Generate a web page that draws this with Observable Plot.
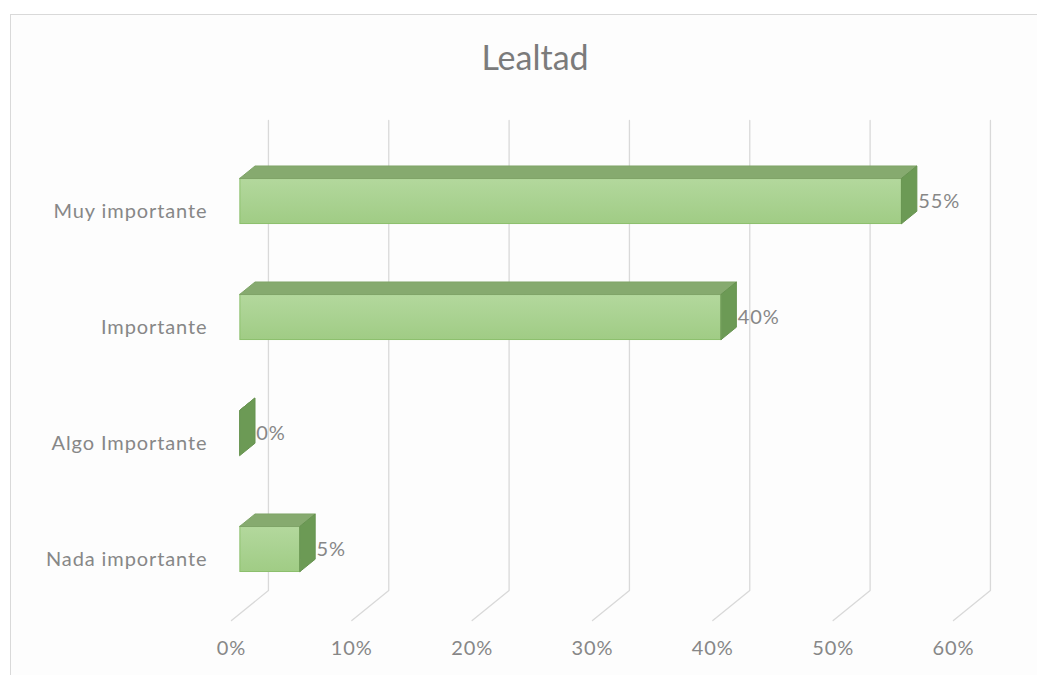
<!DOCTYPE html>
<html>
<head>
<meta charset="utf-8">
<script src="https://cdn.jsdelivr.net/npm/d3@7"></script>
<script src="https://cdn.jsdelivr.net/npm/@observablehq/plot@0.6"></script>
<style>
  body { margin: 0; background: #ffffff; }
  #frame { position: absolute; left: 10px; top: 14px; width: 1040px; height: 670px;
           border: 1px solid #d9d9d9; background: #fdfdfd; }
  #chart { position: absolute; left: 0; top: 0; }
  #title { position: absolute; left: 0; top: 36px; width: 1070px; text-align: center;
           font-family: Lato, "Open Sans", sans-serif; font-size: 34px; color: #7b7b7b; }
</style>
</head>
<body>
<div id="frame"></div>
<div id="chart"></div>
<div id="title">Lealtad</div>
<script>
// Survey answers and their shares
const categories = ["Muy importante", "Importante", "Algo Importante", "Nada importante"];
const shares = [0.55, 0.40, 0.00, 0.05];
const valueLabels = ["55%", "40%", "0%", "5%"];
const tickValues = [0, 0.1, 0.2, 0.3, 0.4, 0.5, 0.6];
const tickLabels = ["0%", "10%", "20%", "30%", "40%", "50%", "60%"];

// Oblique 3D projection, expressed in data units of the two linear scales
const DX = 0.0307;   // horizontal shift of the full depth (share units)
const DY = 0.2586;   // vertical shift of the full depth (row units)
const F0 = 0.24, F1 = 0.65;      // front and back of the bars inside the depth
const H = 0.39;                  // bar thickness (rows)
const Y_TOP = -0.526, Y_BOTTOM = 3.526;
const BAR_SHIFT = -0.025;

const rows = categories.map((c, i) => ({c, i, v: shares[i], label: valueLabels[i]}));

// wall gridlines: back vertical, then down the floor to the front edge
const grid = tickValues.flatMap(t => [
  {t, x: t + DX, y: Y_TOP - DY},
  {t, x: t + DX, y: Y_BOTTOM - DY},
  {t, x: t, y: Y_BOTTOM}
]);

const front = rows.map(r => {
  const yc = r.i + BAR_SHIFT - F0 * DY;
  return {...r, x1: F0 * DX, x2: r.v + F0 * DX, y1: yc - H / 2, y2: yc + H / 2, yc};
});
const d = F1 - F0;
const topFace = front.flatMap(r => [
  {c: r.c, x1: r.x1, x2: r.x2, y: r.y1},
  {c: r.c, x1: r.x1 + d * DX, x2: r.x2 + d * DX, y: r.y1 - d * DY}
]);
const sideFace = front.flatMap(r => [
  {c: r.c, x: r.x2, y1: r.y2, y2: r.y1},
  {c: r.c, x: r.x2 + d * DX, y1: r.y2 - d * DY, y2: r.y1 - d * DY}
]);

const textColor = "#878787";

const chart = Plot.plot({
  width: 1037,
  height: 675,
  marginLeft: 0, marginRight: 0, marginTop: 0, marginBottom: 0,
  style: {background: "transparent", fontFamily: "Lato, 'Open Sans', sans-serif", letterSpacing: "0.9px"},
  x: {domain: [0, 0.6], range: [231, 953], axis: null},
  y: {domain: [Y_TOP, Y_BOTTOM], range: [150, 620], axis: null},
  marks: [
    Plot.line(grid, {x: "x", y: "y", z: "t", stroke: "#d9d9d9", strokeWidth: 1.3}),
    Plot.text(tickValues, {x: t => t, y: Y_BOTTOM, dy: 28, text: (t, i) => tickLabels[i],
      fill: textColor, fontSize: 20}),
    Plot.text(rows, {x: 0, y: "i", dx: -24, text: "c", textAnchor: "end",
      fill: textColor, fontSize: 20}),
    Plot.rect(front, {x1: "x1", x2: "x2", y1: "y1", y2: "y2",
      fill: "url(#frontGrad)", stroke: "#8cbf6c", strokeWidth: 1}),
    Plot.areaX(topFace, {x1: "x1", x2: "x2", y: "y", z: "c",
      fill: "#86aa6f", stroke: "#7fa468", strokeWidth: 1}),
    Plot.areaY(sideFace, {x: "x", y1: "y1", y2: "y2", z: "c",
      fill: "#6c9a55", stroke: "#679350", strokeWidth: 1}),
    Plot.text(front, {x: "x2", y: "yc", dx: 16, text: "label", textAnchor: "start",
      fill: textColor, fontSize: 20})
  ]
});

// vertical shading of the bars' front faces
const defs = d3.select(chart).insert("defs", ":first-child");
const grad = defs.append("linearGradient").attr("id", "frontGrad")
  .attr("x1", 0).attr("y1", 0).attr("x2", 0).attr("y2", 1);
grad.append("stop").attr("offset", "0%").attr("stop-color", "#b3d89d");
grad.append("stop").attr("offset", "100%").attr("stop-color", "#a0cc85");

document.getElementById("chart").append(chart);
</script>
</body>
</html>
